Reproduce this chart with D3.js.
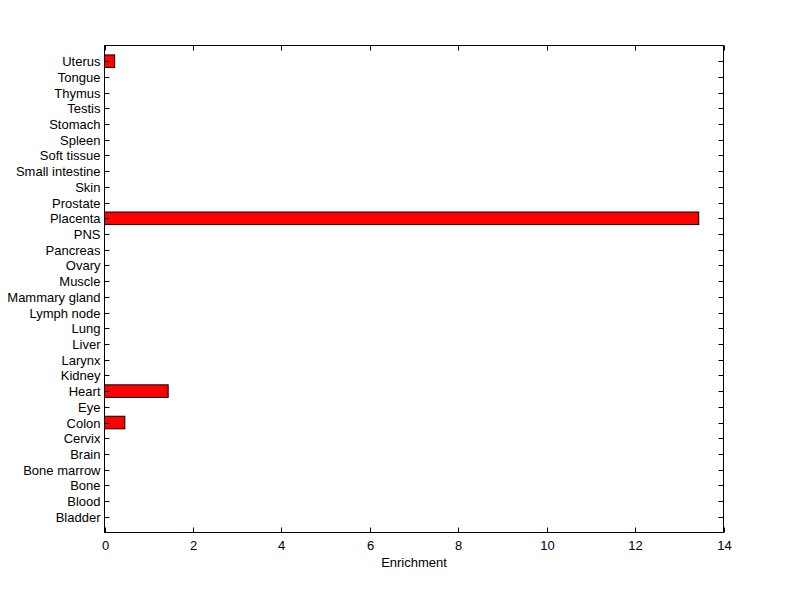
<!DOCTYPE html>
<html><head><meta charset="utf-8">
<script src="https://cdn.jsdelivr.net/npm/d3@7"></script>
<style>body{margin:0;background:#fff}svg{display:block}text{font-family:"Liberation Sans",Arial,sans-serif;font-size:13px;fill:#000}</style>
</head><body><svg id="c" width="800" height="599"></svg>
<script>
const categories = ["Bladder","Blood","Bone","Bone marrow","Brain","Cervix","Colon","Eye","Heart","Kidney","Larynx","Liver","Lung","Lymph node","Mammary gland","Muscle","Ovary","Pancreas","PNS","Placenta","Prostate","Skin","Small intestine","Soft tissue","Spleen","Stomach","Testis","Thymus","Tongue","Uterus"];
const values = [0,0,0,0,0,0,0.46,0,1.44,0,0,0,0,0,0,0,0,0,0,13.44,0,0,0,0,0,0,0,0,0,0.23];
const xTicks = [0,2,4,6,8,10,12,14];
const xLabel = "Enrichment";

const svg = d3.select("#c");
const L=104.5, R=723.5, T=45.5, B=532.5;
const x = d3.scaleLinear().domain([0,14]).range([L,R]);
const y = d3.scaleLinear().domain([0,categories.length+1]).range([B,T]);
const bh = (y(0)-y(0.8));

svg.append("rect").attr("x",0).attr("y",0).attr("width",800).attr("height",599).attr("fill","#fff");

svg.selectAll("rect.bar").data(values.map((v,i)=>({v,i})).filter(d=>d.v>0)).enter().append("rect")
  .attr("class","bar")
  .attr("x",x(0)).attr("y",d=>y(d.i+1)-bh/2)
  .attr("width",d=>x(d.v)-x(0)).attr("height",bh)
  .attr("fill","#ff0000").attr("stroke","#000").attr("stroke-width",1);

const tk=5;
const g = svg.append("g");
g.append("rect").attr("x",L).attr("y",T).attr("width",R-L).attr("height",B-T).attr("fill","none").attr("stroke","#000");
categories.forEach((c,i)=>{
  const yy=Math.round(y(i+1))+0.5;
  g.append("line").attr("x1",L).attr("x2",L+tk).attr("y1",yy).attr("y2",yy).attr("stroke","#000");
  g.append("line").attr("x1",R).attr("x2",R-tk).attr("y1",yy).attr("y2",yy).attr("stroke","#000");
  g.append("text").attr("x",L-4).attr("y",yy).attr("dy","0.35em").attr("text-anchor","end").text(c);
});
xTicks.forEach(t=>{
  const xx=Math.round(x(t))+0.5;
  g.append("line").attr("x1",xx).attr("x2",xx).attr("y1",B).attr("y2",B-tk).attr("stroke","#000");
  g.append("line").attr("x1",xx).attr("x2",xx).attr("y1",T).attr("y2",T+tk).attr("stroke","#000");
  g.append("text").attr("x",xx).attr("y",B+13).attr("dy","0.35em").attr("text-anchor","middle").text(t);
});
g.append("text").attr("x",(L+R)/2).attr("y",B+30).attr("dy","0.35em").attr("text-anchor","middle").text(xLabel);
</script></body></html>
